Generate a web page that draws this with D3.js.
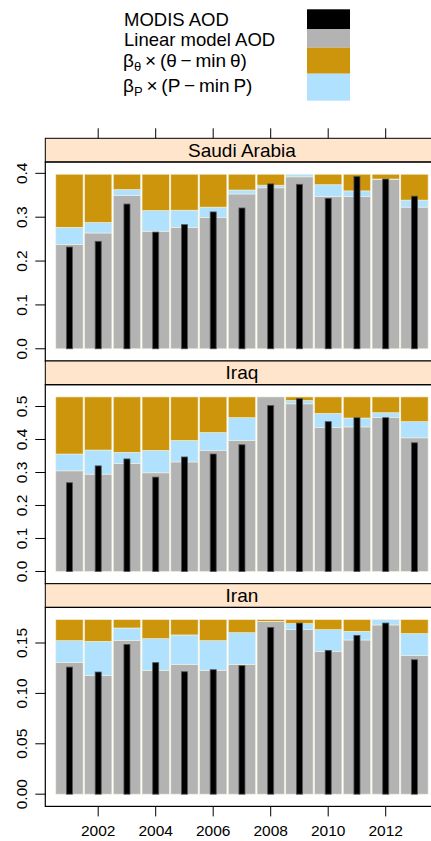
<!DOCTYPE html>
<html>
<head>
<meta charset="utf-8">
<script src="https://cdn.jsdelivr.net/npm/d3@7"></script>
<style>
  body { margin: 0; background: #fff; }
  svg { display: block; }
  text { font-family: "Liberation Sans", Arial, Helvetica, sans-serif; fill: #000; }
</style>
</head>
<body>
<div id="chart"></div>
<script>
// years on the x axis
var years = [2001, 2002, 2003, 2004, 2005, 2006, 2007, 2008, 2009, 2010, 2011, 2012, 2013];
var xTicks = [2002, 2004, 2006, 2008, 2010, 2012];

var countries = ["Saudi Arabia", "Iraq", "Iran"];

// Saudi Arabia
var saudiModis  = [0.232, 0.245, 0.330, 0.266, 0.283, 0.312, 0.321, 0.376, 0.375, 0.343, 0.393, 0.387, 0.348];
var saudiLinear = [0.238, 0.264, 0.350, 0.268, 0.277, 0.299, 0.353, 0.367, 0.392, 0.347, 0.347, 0.386, 0.323];
var saudiP      = [0.039, 0.024, 0.013, 0.047, 0.039, 0.024, 0.009, 0.006, 0.006, 0.027, 0.013, 0.001, 0.016];
var saudiTheta  = [0.121, 0.110, 0.035, 0.083, 0.082, 0.075, 0.036, 0.025, 0.000, 0.024, 0.038, 0.011, 0.059];

// Iraq
var iraqModis  = [0.269, 0.320, 0.341, 0.286, 0.347, 0.356, 0.384, 0.503, 0.524, 0.454, 0.466, 0.466, 0.390];
var iraqLinear = [0.305, 0.295, 0.327, 0.299, 0.332, 0.366, 0.397, 0.529, 0.508, 0.436, 0.438, 0.466, 0.405];
var iraqP      = [0.051, 0.073, 0.034, 0.068, 0.065, 0.055, 0.069, 0.000, 0.010, 0.043, 0.027, 0.015, 0.049];
var iraqTheta  = [0.173, 0.161, 0.168, 0.162, 0.132, 0.108, 0.063, 0.000, 0.011, 0.050, 0.064, 0.048, 0.075];

// Iran
var iranModis  = [0.1261, 0.1212, 0.1486, 0.1305, 0.1215, 0.1235, 0.1275, 0.1655, 0.1698, 0.1427, 0.1576, 0.1698, 0.1334];
var iranLinear = [0.1305, 0.1178, 0.1523, 0.1228, 0.1285, 0.1228, 0.1288, 0.1712, 0.1632, 0.1417, 0.1530, 0.1679, 0.1374];
var iranP      = [0.0218, 0.0338, 0.0126, 0.0315, 0.0295, 0.0295, 0.0314, 0.0003, 0.0060, 0.0215, 0.0086, 0.0053, 0.0219];
var iranTheta  = [0.0209, 0.0216, 0.0083, 0.0189, 0.0152, 0.0209, 0.0130, 0.0017, 0.0040, 0.0100, 0.0116, 0.0000, 0.0139];

var saudiTicks = [0.0, 0.1, 0.2, 0.3, 0.4];
var iraqTicks  = [0.0, 0.1, 0.2, 0.3, 0.4, 0.5];
var iranTicks  = [0.00, 0.05, 0.10, 0.15];

var legendLabels = ["MODIS AOD", "Linear model AOD"];
var colModis = "#000000", colLinear = "#B3B3B3", colTheta = "#CD950C", colP = "#B0E2FF";

var panels = [
  { name: countries[0], modis: saudiModis, linear: saudiLinear, p: saudiP, theta: saudiTheta, ticks: saudiTicks, fmt: d3.format(".1f") },
  { name: countries[1], modis: iraqModis, linear: iraqLinear, p: iraqP, theta: iraqTheta, ticks: iraqTicks, fmt: d3.format(".1f") },
  { name: countries[2], modis: iranModis, linear: iranLinear, p: iranP, theta: iranTheta, ticks: iranTicks, fmt: d3.format(".2f") }
];

var width = 431, height = 841;
var svg = d3.select("#chart").append("svg").attr("width", width).attr("height", height);

// layout
var left = 45.3, right = 438.6;
var firstStrip = 138.3, stripH = 23.7, panelH = 199, step = 222.7;
var pad = 0.07;

var xRange = d3.extent(years);
var xPad = (xRange[1] - xRange[0]) * pad;
var x = d3.scaleLinear().domain([xRange[0] - xPad, xRange[1] + xPad]).range([left, right]);
var yearW = x(2002) - x(2001);

panels.forEach(function (p, i) {
  var stripTop = firstStrip + i * step;
  var top = stripTop + stripH;
  var bottom = top + panelH;

  var totals = years.map(function (d, j) { return p.linear[j] + p.p[j] + p.theta[j]; });
  var yMax = d3.max(totals.concat(p.modis));
  var y = d3.scaleLinear().domain([-pad * yMax, yMax * (1 + pad)]).range([bottom, top]);

  var g = svg.append("g");

  // strip
  g.append("rect")
    .attr("x", left).attr("y", stripTop)
    .attr("width", right - left).attr("height", stripH)
    .attr("fill", "#FFE5CC").attr("stroke", "#000").attr("stroke-width", 1);
  g.append("text")
    .attr("x", (left + right) / 2).attr("y", stripTop + 18.3)
    .attr("text-anchor", "middle").attr("font-size", 19)
    .text(p.name);

  // stacked bars: linear model, then P term, then theta term
  var rows = years.map(function (d, j) {
    return { year: d, linear: p.linear[j], p: p.p[j], theta: p.theta[j], modis: p.modis[j] };
  });
  var stack = d3.stack().keys(["linear", "p", "theta"])(rows);
  var colors = { linear: colLinear, p: colP, theta: colTheta };
  var bw = yearW * 0.95;

  g.selectAll(".layer").data(stack).enter().append("g")
    .attr("fill", function (s) { return colors[s.key]; })
    .selectAll("rect").data(function (s) { return s; }).enter().append("rect")
    .attr("x", function (d) { return x(d.data.year) - bw / 2; })
    .attr("width", bw)
    .attr("y", function (d) { return y(d[1]); })
    .attr("height", function (d) { return Math.max(0, y(d[0]) - y(d[1])); })
    .attr("stroke", "#f2f2de").attr("stroke-width", 0.6);

  // MODIS bars on top
  var mw = yearW * 0.21;
  g.selectAll(".modis").data(rows).enter().append("rect")
    .attr("class", "modis")
    .attr("x", function (d) { return x(d.year) - mw / 2; })
    .attr("width", mw)
    .attr("y", function (d) { return y(d.modis); })
    .attr("height", function (d) { return y(0) - y(d.modis); })
    .attr("fill", colModis).attr("stroke", "#555").attr("stroke-width", 0.8);

  // panel border
  g.append("rect")
    .attr("x", left).attr("y", top)
    .attr("width", right - left).attr("height", panelH)
    .attr("fill", "none").attr("stroke", "#000").attr("stroke-width", 1.2);

  // y axis
  p.ticks.forEach(function (t) {
    g.append("line")
      .attr("x1", left - 10).attr("x2", left)
      .attr("y1", y(t)).attr("y2", y(t))
      .attr("stroke", "#000");
    g.append("text")
      .attr("transform", "translate(27," + y(t) + ") rotate(-90)")
      .attr("text-anchor", "middle").attr("font-size", 15.5)
      .text(p.fmt(t));
  });

  // x ticks on top of first panel, labels under last panel
  if (i === 0) {
    xTicks.forEach(function (t) {
      g.append("line")
        .attr("x1", x(t)).attr("x2", x(t))
        .attr("y1", stripTop - 10).attr("y2", stripTop)
        .attr("stroke", "#000");
    });
  }
  if (i === panels.length - 1) {
    xTicks.forEach(function (t) {
      g.append("line")
        .attr("x1", x(t)).attr("x2", x(t))
        .attr("y1", bottom).attr("y2", bottom + 10)
        .attr("stroke", "#000");
      g.append("text")
        .attr("x", x(t)).attr("y", bottom + 30)
        .attr("text-anchor", "middle").attr("font-size", 15.5)
        .text(t);
    });
  }
});

// legend
var legend = svg.append("g");
var boxes = [
  { y0: 9.3, y1: 29.3, fill: colModis },
  { y0: 29.3, y1: 47.7, fill: colLinear },
  { y0: 47.7, y1: 73.7, fill: colTheta },
  { y0: 73.7, y1: 100.7, fill: colP }
];
legend.selectAll("rect").data(boxes).enter().append("rect")
  .attr("x", 307).attr("width", 43)
  .attr("y", function (d) { return d.y0; })
  .attr("height", function (d) { return d.y1 - d.y0; })
  .attr("fill", function (d) { return d.fill; });

legend.append("text").attr("x", 124).attr("y", 25.5).attr("font-size", 18.5).text(legendLabels[0]);
legend.append("text").attr("x", 124).attr("y", 45.5).attr("font-size", 18.5).text(legendLabels[1]);

function betaLabel(yPos, sym) {
  var t = legend.append("text").attr("x", 123).attr("y", yPos).attr("font-size", 19);
  t.append("tspan").text("\u03B2");
  t.append("tspan").attr("font-size", 13).attr("dy", 4).text(sym);
  t.append("tspan").attr("dy", -4).text("\u2009\u00D7\u2009(" + sym + "\u2009\u2212\u2009min\u2009" + sym + ")");
}
betaLabel(66.5, "\u03B8");
betaLabel(91.5, "P");
</script>
</body>
</html>
